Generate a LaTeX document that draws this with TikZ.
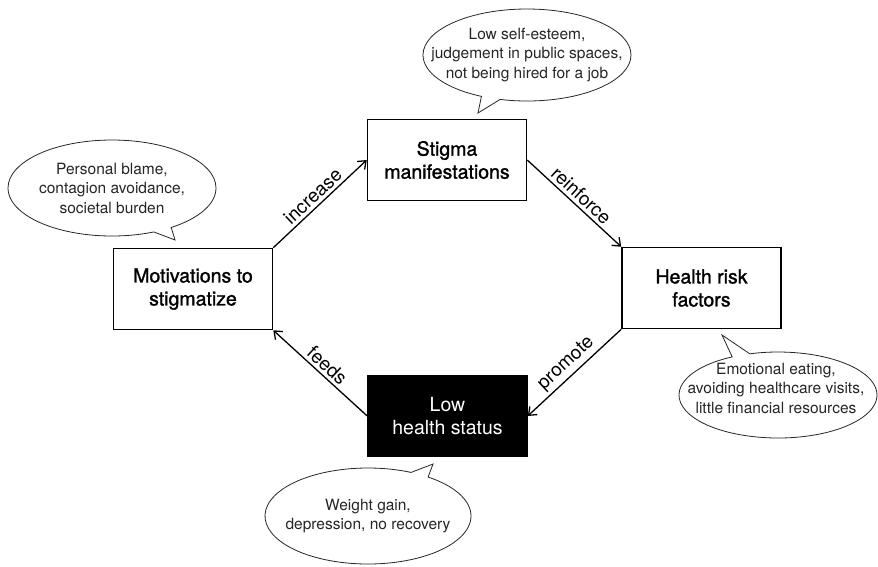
\documentclass[tikz,border=0pt]{standalone}
\usepackage{fontspec}
\setmainfont{TeX Gyre Heros}
\newfontfamily\medfont{TeX Gyre Heros}[FakeBold=1.4]
\usetikzlibrary{shapes.callouts,arrows.meta}

\begin{document}
\begin{tikzpicture}[x=1pt,y=-1pt,
  box/.style={draw,line width=1.5pt,minimum width=159pt,minimum height=81pt,
    align=center,font=\fontsize{19.5}{23}\medfont},
  bubble/.style={ellipse callout,draw=black!85,line width=0.8pt,fill=white,
    callout pointer arc=11},
  bubbletext/.style={align=center,inner sep=0pt,text=black!85,
    font=\fontsize{15.5}{19.5}\selectfont},
  link/.style={line width=1.3pt,-{Straight Barb[length=7pt,width=11pt]}},
  lbl/.style={sloped,above,inner sep=3pt,font=\fontsize{19}{21}\selectfont}]
  \useasboundingbox (0,0) rectangle (878,566);

  \node[box] (stigma) at (447,160) {Stigma\\manifestations};
  \node[box] (motiv) at (193,289) {Motivations to\\stigmatize};
  \node[box] (risk) at (701.5,288) {Health risk\\factors};
  \node[box,fill=black,text=white,font=\fontsize{19.5}{23}\selectfont] (low)
    at (447.5,416) {Low\\health status};

  \draw[link] (motiv.north east) -- node[lbl] {increase} (stigma.west);
  \draw[link] (stigma.east) -- node[lbl] {reinforce} (risk.north west);
  \draw[link] (risk.south west) -- node[lbl] {promote} (low.east);
  \draw[link] (low.west) -- node[lbl] {feeds} (motiv.south east);

  \node[bubble,minimum width=208pt,minimum height=92pt,
    callout absolute pointer={(478,113)}] (esteem) at (527,55) {};
  \node[bubbletext] (esteemtext) at (esteem.center)
    {Low self-esteem,\\judgement in public spaces,\\not being hired for a job};

  \node[bubble,minimum width=208pt,minimum height=96pt,
    callout absolute pointer={(175,240)}] (blame) at (112,188) {};
  \node[bubbletext] (blametext) at (blame.center)
    {Personal blame,\\contagion avoidance,\\societal burden};

  \node[bubble,minimum width=198pt,minimum height=86pt,
    callout absolute pointer={(722,335)}] (eating) at (778,395) {};
  \node[bubbletext] (eatingtext) at (776,388)
    {Emotional eating,\\avoiding healthcare visits,\\little financial resources};

  \node[bubble,minimum width=206pt,minimum height=96pt,
    callout absolute pointer={(433,464)}] (gain) at (368,516) {};
  \node[bubbletext] (gaintext) at (gain.center)
    {Weight gain,\\depression, no recovery};
\end{tikzpicture}
\end{document}
